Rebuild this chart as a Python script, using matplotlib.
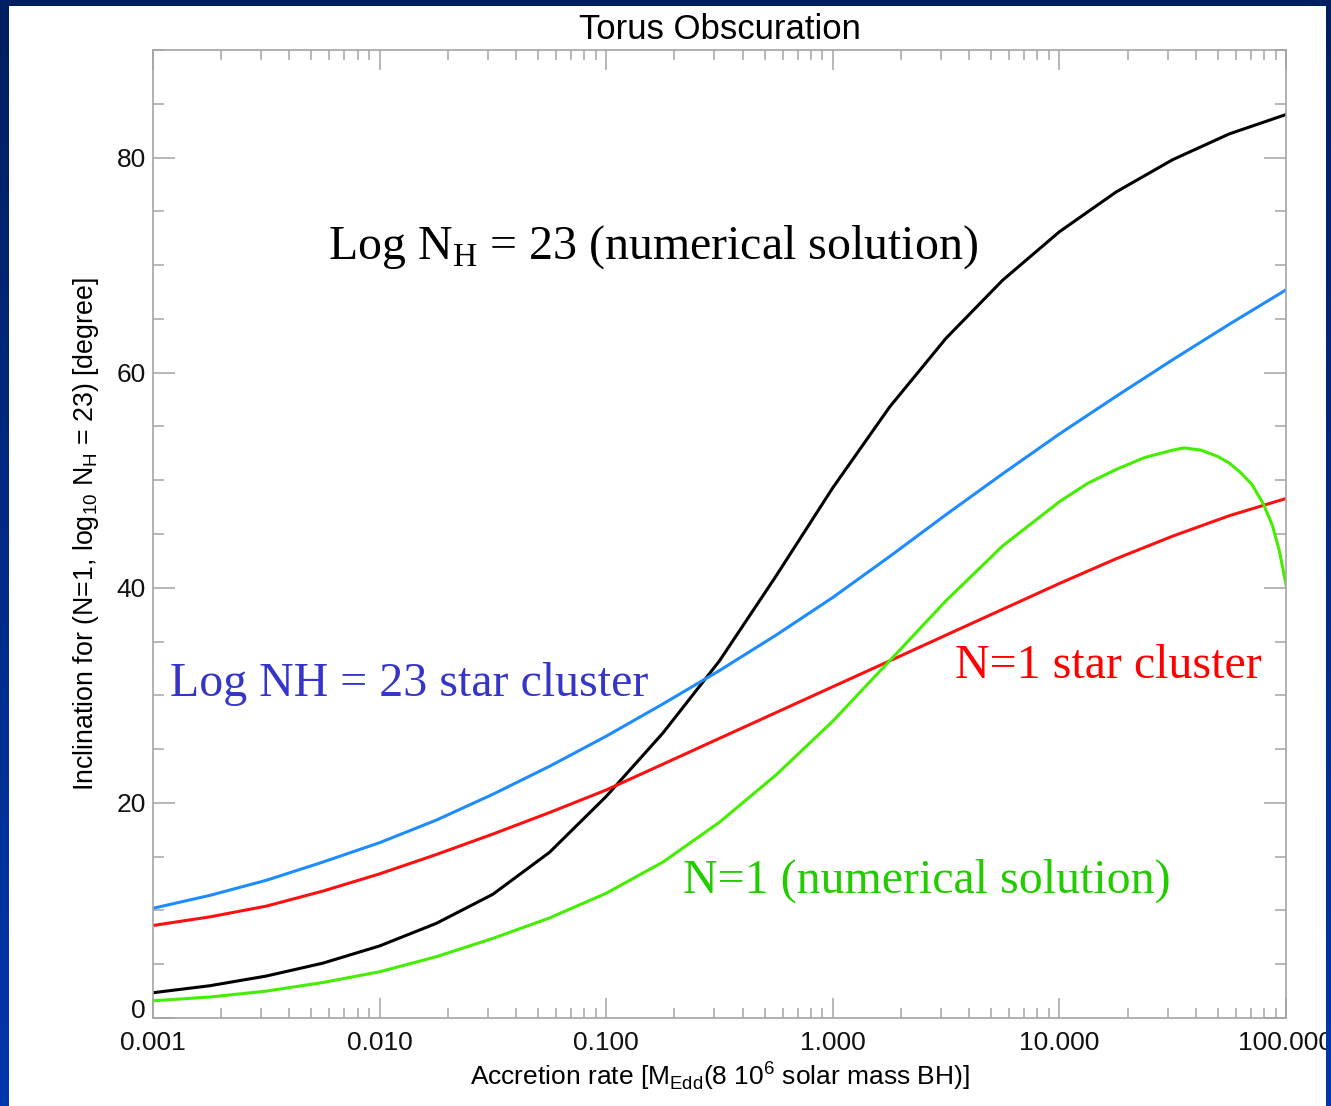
import numpy as np
import matplotlib
matplotlib.use("Agg")
import matplotlib.pyplot as plt
from matplotlib.colors import LinearSegmentedColormap
from matplotlib.ticker import MultipleLocator, NullFormatter

# ---------------------------------------------------------------
# data (accretion rate vs inclination, degrees)
# ---------------------------------------------------------------
acc_rate = [0.001, 0.00178, 0.00316, 0.00562, 0.01, 0.0178, 0.0316, 0.0562,
            0.1, 0.178, 0.316, 0.562, 1.0, 1.78, 3.16, 5.62, 10.0, 17.8,
            31.6, 56.2, 100.0]

nh23_numerical = [2.35, 3.0, 3.9, 5.1, 6.7, 8.8, 11.5, 15.4, 20.6, 26.5, 33.2,
                  41.1, 49.3, 56.8, 63.2, 68.6, 73.1, 76.8, 79.8, 82.2, 84.0]
nh23_cluster = [10.2, 11.4, 12.8, 14.5, 16.3, 18.4, 20.8, 23.4, 26.2, 29.2, 32.3,
                35.6, 39.1, 42.9, 46.8, 50.6, 54.3, 57.8, 61.2, 64.5, 67.7]
n1_cluster = [8.6, 9.4, 10.4, 11.8, 13.4, 15.2, 17.1, 19.1, 21.2, 23.6, 26.0,
              28.4, 30.8, 33.2, 35.6, 38.0, 40.4, 42.7, 44.8, 46.7, 48.3]

# the N=1 numerical curve turns over near the right edge, so it gets extra samples
acc_rate_n1 = [0.001, 0.00178, 0.00316, 0.00562, 0.01, 0.0178, 0.0316, 0.0562,
               0.1, 0.178, 0.316, 0.562, 1.0, 1.78, 3.16, 5.62, 10.0, 13.3,
               17.8, 23.7, 31.6, 35.5, 42.2, 50.1, 56.2, 63.1, 70.8, 79.4,
               87.1, 93.3, 100.0]
n1_numerical = [1.6, 1.95, 2.5, 3.3, 4.3, 5.7, 7.4, 9.3, 11.6, 14.5, 18.2, 22.6,
                27.6, 33.2, 38.8, 43.9, 48.0, 49.7, 51.0, 52.1, 52.8, 53.0,
                52.8, 52.2, 51.6, 50.7, 49.6, 47.8, 45.8, 43.5, 40.3]

xticks = [0.001, 0.01, 0.1, 1.0, 10.0, 100.0]
xticklabels = ["0.001", "0.010", "0.100", "1.000", "10.000", "100.000"]
yticks = [0, 20, 40, 60, 80]

# ---------------------------------------------------------------
# figure
# ---------------------------------------------------------------
plt.rcParams["font.family"] = ["Liberation Sans", "DejaVu Sans"]

W, H = 1331, 1106
fig = plt.figure(figsize=(W / 100, H / 100), dpi=100)
fig.patch.set_facecolor("white")

ax = fig.add_axes([153 / W, 1 - 1018 / H, (1286 - 153) / W, (1018 - 50) / H])

ax.plot(acc_rate, nh23_numerical, color="black", lw=2.2)
ax.plot(acc_rate, nh23_cluster, color="#1e8cff", lw=2.2)
ax.plot(acc_rate, n1_cluster, color="#ff1010", lw=2.2)
ax.plot(acc_rate_n1, n1_numerical, color="#44ee00", lw=2.2)

ax.set_xscale("log")
ax.set_xlim(0.001, 100)
ax.set_ylim(0, 90)
ax.set_xticks(xticks, labels=xticklabels)
ax.xaxis.set_minor_formatter(NullFormatter())
ax.set_yticks(yticks)
ax.yaxis.set_minor_locator(MultipleLocator(5))

grey = "#a4a4a4"
for s in ax.spines.values():
    s.set_color(grey)
    s.set_linewidth(1.2)
ax.tick_params(which="both", direction="in", top=True, right=True,
               color=grey, width=1.1, labelsize=19, labelcolor="#111111")
ax.tick_params(axis="y", which="major", length=16, pad=5)
ax.tick_params(axis="y", which="minor", length=8)
ax.tick_params(axis="x", which="major", length=14.5, pad=9)
ax.tick_params(axis="x", which="minor", length=7.5)
# IDL lifts the lowest y label off the axis
ax.yaxis.get_major_ticks()[0].label1.set_verticalalignment("baseline")

ax.set_title("Torus Obscuration", fontsize=25, pad=8)
ax.set_xlabel(r"Accretion rate [M$_{\mathdefault{Edd}}$(8 10$^{\mathdefault{6}}$ solar mass BH)]",
              fontsize=19, labelpad=3)
ax.set_ylabel(r"Inclination for (N=1, log$_{\mathdefault{10}}$ N$_{\mathdefault{H}}$ = 23) [degree]",
              fontsize=19.3, labelpad=11)

# curve labels in Times-like serif
serif = ["Liberation Serif", "DejaVu Serif"]
ax.text(0.1545, 0.785, r"Log N$_{\mathdefault{H}}$ = 23 (numerical solution)",
        transform=ax.transAxes, family=serif, fontsize=34.5, color="black", va="baseline")
ax.text(0.015, 0.333, "Log NH = 23 star cluster",
        transform=ax.transAxes, family=serif, fontsize=34.5, color="#3535c8", va="baseline")
ax.text(0.708, 0.351, "N=1 star cluster",
        transform=ax.transAxes, family=serif, fontsize=34.5, color="#ff0000", va="baseline")
ax.text(0.468, 0.130, "N=1 (numerical solution)",
        transform=ax.transAxes, family=serif, fontsize=34.5, color="#22cc00", va="baseline")

# ---------------------------------------------------------------
# dark blue slide border (drawn above the axes so it clips the last label)
# ---------------------------------------------------------------
border = LinearSegmentedColormap.from_list("border", ["#001f60", "#0036ad"])
grad = np.linspace(0, 1, 256).reshape(-1, 1)
for rect in ([0, 0, 9 / W, 1], [1 - 5 / W, 0, 5 / W, 1]):
    bax = fig.add_axes(rect, zorder=10)
    bax.imshow(grad, cmap=border, aspect="auto")
    bax.axis("off")
tax = fig.add_axes([0, 1 - 6 / H, 1, 6 / H], zorder=10)
tax.set_facecolor("#001f62")
tax.set_xticks([])
tax.set_yticks([])
for s in tax.spines.values():
    s.set_visible(False)

fig.savefig("out.png", dpi=100)
